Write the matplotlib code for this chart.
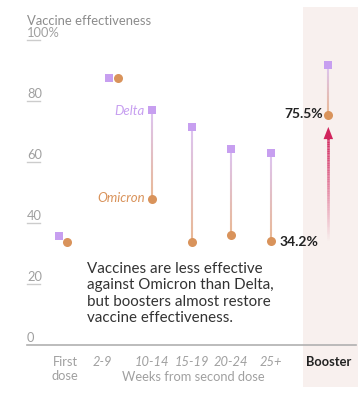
import numpy as np
import matplotlib
matplotlib.use('Agg')
import matplotlib.pyplot as plt
from matplotlib.collections import LineCollection
from matplotlib.colors import to_rgb

plt.rcParams['font.family'] = ['Lato', 'DejaVu Sans']

# data
categories = ['First\ndose', '2-9', '10-14', '15-19', '20-24', '25+', 'Booster']
delta = [35.8, 87.5, 77.0, 71.6, 64.2, 63.0, 91.8]
omicron = [33.7, 87.5, 47.9, 33.7, 36.1, 34.2, 75.5]
yticks = [0, 20, 40, 60, 80, 100]
ytick_labels = ['0', '20', '40', '60', '80', '100%']

# layout (slot positions of categories)
xs = np.array([0, 1.25, 2.25, 3.25, 4.25, 5.25, 6.7])
# small horizontal nudges where the two marks overlap
dx_delta = [-0.09, -0.09, 0, 0, 0, 0, 0]
dx_omi = [0.09, 0.14, 0, 0, 0, 0, 0]
stem = [False, False, True, True, True, True, True]

PURPLE = '#c79ff0'
ORANGE = '#d9935b'
GREY = '#a0a0a0'
DARK = '#222222'
CRIMSON = '#d1245c'

fig = plt.figure(figsize=(3.63, 3.98), dpi=100)
ax = fig.add_axes([0, 0, 1, 1])
ax.set_xlim(-63 / 39.6, 300 / 39.6)
ax.set_ylim((345 - 398) / 3.05, 345 / 3.05)
ax.axis('off')

def px(p):
    return (p - 63) / 39.6

# booster band
ax.axvspan(px(303), px(358), ymin=(398 - 387) / 398, ymax=(398 - 7) / 398,
           color='#f8f0ee', lw=0, zorder=0)

# gridline stubs + tick labels
for v, lab in zip(yticks, ytick_labels):
    if v == 0:
        ax.plot([px(27), px(356)], [0, 0], color='#b0b0b0', lw=1.2, zorder=1)
    else:
        ax.plot([px(27), px(40)], [v, v], color='#cccccc', lw=1.0, zorder=1)
    ax.text(px(27), v + 0.4, lab, color=GREY, fontsize=9.3, ha='left', va='bottom')

ax.text(px(27), 106.3, 'Vaccine effectiveness', color='#8c8c8c', fontsize=9.4,
        ha='left', va='center')

# gradient stems
def grad_line(x, y0, y1, c0, c1, lw, alpha0=1.0, alpha1=1.0, n=60):
    ys = np.linspace(y0, y1, n + 1)
    segs = [[(x, ys[i]), (x, ys[i + 1])] for i in range(n)]
    t = np.linspace(0, 1, n)[:, None]
    rgb = (1 - t) * np.array(to_rgb(c0)) + t * np.array(to_rgb(c1))
    a = (1 - t) * alpha0 + t * alpha1
    cols = np.hstack([rgb, a])
    ax.add_collection(LineCollection(segs, colors=cols, linewidths=lw, zorder=2,
                                     capstyle='butt'))

for i in range(len(categories)):
    if stem[i]:
        grad_line(xs[i], omicron[i], delta[i], '#e9b894', '#dcc4f2', 1.5)

# arrow at booster
ab = xs[-1]
grad_line(ab, 34, 68.5, CRIMSON, CRIMSON, 1.9, alpha0=0.0, alpha1=1.0)
ax.fill([ab - 0.12, ab + 0.12, ab], [67.5, 67.5, 71.5], color=CRIMSON, lw=0, zorder=3)

# markers
ax.plot(xs + np.array(dx_delta), delta, 's', color=PURPLE, ms=6, mew=0, zorder=4)
ax.plot(xs + np.array(dx_omi), omicron, 'o', color=ORANGE, ms=6.5, mew=0, zorder=5)

# series labels
ax.text(px(145), delta[2] - 0.3, 'Delta', color=PURPLE, fontsize=9.5,
        style='italic', ha='right', va='center')
ax.text(px(145), omicron[2] + 0.4, 'Omicron', color=ORANGE, fontsize=9.5,
        style='italic', ha='right', va='center')
ax.text(px(323), omicron[-1] + 0.3, '75.5%', color=DARK, fontsize=10,
        fontweight='bold', ha='right', va='center')
ax.text(px(280), omicron[5] - 0.3, '34.2%', color=DARK, fontsize=10,
        fontweight='bold', ha='left', va='center')

# note
ax.text(px(87), (345 - 262) / 3.05,
        'Vaccines are less effective\nagainst Omicron than Delta,\n'
        'but boosters almost restore\nvaccine effectiveness.',
        color='#333333', fontsize=10.9, ha='left', va='top', linespacing=1.22)

# x labels
yl1 = (345 - 362) / 3.05
yl2 = (345 - 377) / 3.05
ax.text(px(65), (yl1 + yl2) / 2, categories[0], color=GREY, fontsize=9.3,
        ha='center', va='center', linespacing=1.2)
label_x = [None, px(102), xs[2], xs[3], xs[4], xs[5]]
for i in range(1, 6):
    ax.text(label_x[i], yl1, categories[i], color=GREY, fontsize=9.3,
            style='italic', ha='center', va='center')
ax.text(px(193), yl2, 'Weeks from second dose', color=GREY, fontsize=9.3,
        ha='center', va='center')
ax.text(xs[-1], yl1, categories[-1], color=DARK, fontsize=9.3,
        fontweight='bold', ha='center', va='center')

fig.savefig('out.png', dpi=100, facecolor='white')
